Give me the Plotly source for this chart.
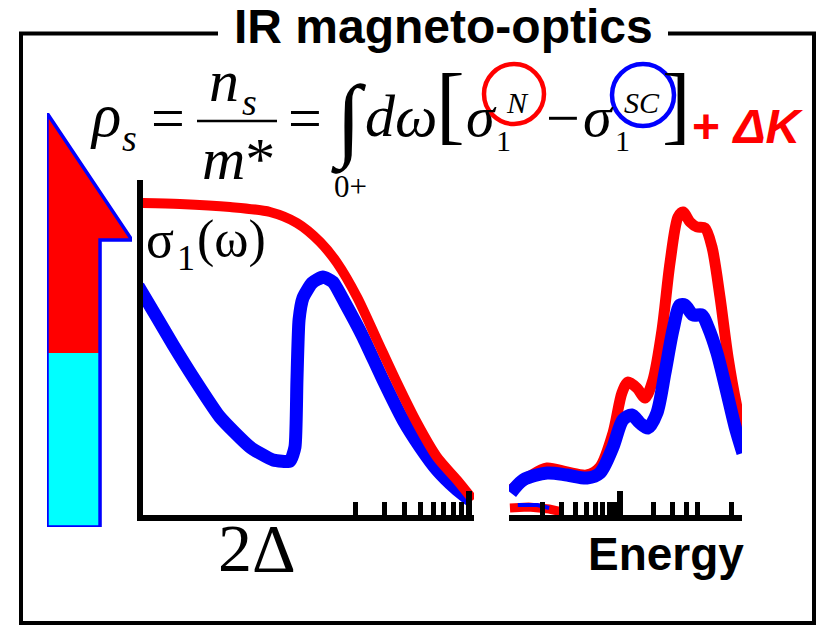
import plotly.graph_objects as go

W, H = 821, 626
SERIF = "Liberation Serif, Times New Roman, serif"
SANS = "Liberation Sans, Arial, sans-serif"
RED, BLUE, CYAN = "#ff0000", "#0000ff", "#00ffff"

# --- conductivity spectra, low-energy (gap) region: energy vs sigma_1 ---
low_energy_normal = [0.09, 0.163, 0.333, 0.588, 0.863, 1.20, 1.53, 2.03, 2.70, 3.59, 4.77, 6.34, 8.43, 10.6]
low_sigma_normal = [3.17, 3.16, 3.13, 3.08, 2.97, 2.78, 2.57, 2.23, 1.80, 1.37, 0.97, 0.63, 0.40, 0.20]

low_energy_sc = [0.09, 0.118, 0.148, 0.202, 0.288, 0.442, 0.614, 0.782, 0.839, 0.863, 0.889, 0.940,
                 1.07, 1.25, 1.44, 1.71, 2.21, 2.94, 3.91, 4.98, 6.34, 8.19, 10.1]
low_sigma_sc = [2.34, 2.02, 1.75, 1.40, 1.03, 0.73, 0.60, 0.59, 0.73, 1.40, 2.00, 2.22,
                2.37, 2.43, 2.38, 2.17, 1.83, 1.40, 1.00, 0.73, 0.50, 0.32, 0.20]

# --- high-energy (interband) region ---
high_energy_normal = [1.04, 1.55, 2.20, 3.33, 5.04, 6.60, 8.65, 10.4, 11.8, 14.2, 16.8, 19.8, 23.9,
                      28.2, 33.3, 37.0, 42.7, 49.4, 58.3, 67.4, 79.6, 94.0, 113, 134]
high_sigma_normal = [0.30, 0.44, 0.52, 0.48, 0.45, 0.53, 0.87, 1.27, 1.38, 1.32, 1.22, 1.40, 1.90,
                     2.57, 3.03, 3.08, 2.98, 2.93, 2.92, 2.73, 2.23, 1.63, 1.13, 0.77]

high_energy_sc = [1.04, 1.34, 2.20, 3.33, 5.04, 6.60, 8.65, 10.6, 12.8, 15.1, 17.9, 21.5, 25.4,
                  30.0, 34.7, 38.5, 45.5, 54.8, 62.1, 74.8, 92.0, 109, 128]
high_sigma_sc = [0.27, 0.40, 0.47, 0.45, 0.42, 0.47, 0.73, 1.00, 1.05, 0.97, 0.92, 1.07, 1.47,
                 1.90, 2.15, 2.15, 2.05, 2.05, 1.93, 1.67, 1.27, 0.93, 0.67]

# short pieces of both spectra lying on the energy axis
floor_energy_normal = [1.02, 1.5, 2.3, 3.0]
floor_sigma_normal = [0.12, 0.13, 0.11, 0.08]
floor_energy_sc = [1.2, 1.8, 2.3]
floor_sigma_sc = [0.15, 0.15, 0.12]

# log-axis tick marks
low_major_ticks = [10]
low_minor_ticks = [2, 3, 4, 5, 6, 7, 8, 9]
high_major_ticks = [10]
high_minor_ticks = [1, 2, 3, 4, 5, 6, 7, 8, 9, 20, 30, 40, 50, 100]

# superfluid-weight bar: share carried by the kinetic-energy change
kinetic_share = 0.42


def px_x(x):
    return x / W


def px_y(y):
    return 1 - y / H


fig = go.Figure()

# low-energy panel
fig.add_trace(go.Scatter(x=low_energy_sc, y=low_sigma_sc, mode="lines",
                         line=dict(color=BLUE, width=13, shape="spline", smoothing=0.5),
                         xaxis="x", yaxis="y"))
fig.add_trace(go.Scatter(x=low_energy_normal, y=low_sigma_normal, mode="lines",
                         line=dict(color=RED, width=10, shape="spline", smoothing=0.8),
                         xaxis="x", yaxis="y"))

# high-energy panel
fig.add_trace(go.Scatter(x=floor_energy_normal, y=floor_sigma_normal, mode="lines",
                         line=dict(color=RED, width=9), xaxis="x2", yaxis="y2"))
fig.add_trace(go.Scatter(x=floor_energy_sc, y=floor_sigma_sc, mode="lines",
                         line=dict(color=BLUE, width=4), xaxis="x2", yaxis="y2"))
fig.add_trace(go.Scatter(x=high_energy_normal, y=high_sigma_normal, mode="lines",
                         line=dict(color=RED, width=11, shape="spline", smoothing=0.8),
                         xaxis="x2", yaxis="y2"))
fig.add_trace(go.Scatter(x=high_energy_sc, y=high_sigma_sc, mode="lines",
                         line=dict(color=BLUE, width=13, shape="spline", smoothing=0.8),
                         xaxis="x2", yaxis="y2"))

# superfluid-weight arrow (unit box axes)
shaft = 0.624
head_base = 0.693
fig.add_trace(go.Scatter(x=[0, 0, shaft, shaft, 0], y=[0, kinetic_share, kinetic_share, 0, 0],
                         mode="lines", fill="toself", fillcolor=CYAN, line=dict(width=0),
                         xaxis="x3", yaxis="y3"))
fig.add_trace(go.Scatter(x=[0, 0, 1, shaft, shaft, 0],
                         y=[kinetic_share, 1, head_base, head_base, kinetic_share, kinetic_share],
                         mode="lines", fill="toself", fillcolor=RED, line=dict(width=0),
                         xaxis="x3", yaxis="y3"))
fig.add_trace(go.Scatter(x=[0, 0, 1, shaft, shaft, 0], y=[0, 1, head_base, head_base, 0, 0],
                         mode="lines", line=dict(color=BLUE, width=3.5),
                         xaxis="x3", yaxis="y3"))

# axis geometry
low_x_dom = (143, 474)
high_x_dom = (509, 742)
y_dom = (515, 180)
low_decade = 161.7
high_decade = 111.0
low_range = [1 - (469 - low_x_dom[0]) / low_decade, 1 + (low_x_dom[1] - 469) / low_decade]
high_range = [0, (high_x_dom[1] - high_x_dom[0]) / high_decade]
y_range = [(520 - y_dom[0]) / 100, (520 - y_dom[1]) / 100]

common_x = dict(type="log", showgrid=False, zeroline=False, showticklabels=False,
                showline=True, linecolor="black", linewidth=6,
                ticks="inside", tickcolor="black", tickwidth=6, ticklen=24)

fig.update_layout(
    width=W, height=H,
    margin=dict(l=0, r=0, t=0, b=0),
    paper_bgcolor="white", plot_bgcolor="rgba(0,0,0,0)",
    showlegend=False,
    xaxis=dict(**common_x, domain=[px_x(low_x_dom[0]), px_x(low_x_dom[1])], range=low_range,
               tickmode="array", tickvals=low_major_ticks,
               minor=dict(tickmode="array", tickvals=low_minor_ticks, ticks="inside",
                          ticklen=13, tickwidth=5, tickcolor="black", showgrid=False)),
    yaxis=dict(domain=[px_y(y_dom[0]), px_y(y_dom[1])], range=y_range, showgrid=False,
               zeroline=False, showticklabels=False, showline=True, linecolor="black",
               linewidth=6, ticks=""),
    xaxis2=dict(**common_x, domain=[px_x(high_x_dom[0]), px_x(high_x_dom[1])], range=high_range,
                tickmode="array", tickvals=high_major_ticks, anchor="y2",
                minor=dict(tickmode="array", tickvals=high_minor_ticks, ticks="inside",
                           ticklen=13, tickwidth=5, tickcolor="black", showgrid=False)),
    yaxis2=dict(domain=[px_y(y_dom[0]), px_y(y_dom[1])], range=y_range, visible=False,
                anchor="x2"),
    xaxis3=dict(domain=[px_x(47), px_x(132)], range=[0, 1], visible=False, anchor="y3"),
    yaxis3=dict(domain=[px_y(527), px_y(113)], range=[0, 1], visible=False, anchor="x3"),
)

# frame with a gap for the heading
fig.add_shape(type="path", xref="paper", yref="paper",
              path=(f"M {px_x(218)},{px_y(33.5)} L {px_x(21)},{px_y(33.5)} L {px_x(21)},{px_y(623)} "
                    f"L {px_x(814)},{px_y(623)} L {px_x(814)},{px_y(33.5)} L {px_x(668)},{px_y(33.5)}"),
              line=dict(color="black", width=4))

# fraction bar
fig.add_shape(type="line", xref="paper", yref="paper",
              x0=px_x(197), x1=px_x(277), y0=px_y(121), y1=px_y(121),
              line=dict(color="black", width=2.5))

# circled superscripts
for cx, cy, r, col in [(514, 94, 30, RED), (643, 95, 31, BLUE)]:
    fig.add_shape(type="circle", xref="paper", yref="paper",
                  x0=px_x(cx - r), x1=px_x(cx + r), y0=px_y(cy + r), y1=px_y(cy - r),
                  line=dict(color=col, width=4.5))


def text(s, x, baseline, size, family=SERIF, color="black"):
    fig.add_annotation(text=s, x=px_x(x), y=px_y(baseline - 0.34 * size),
                       xref="paper", yref="paper", xanchor="center", yanchor="middle",
                       showarrow=False, font=dict(family=family, size=size, color=color))


text("<b>IR magneto-optics</b>", 443, 43, 48, SANS)
text("<i>ρ</i>", 106, 136, 61)
text("<i>s</i>", 129, 151, 38)
text("=", 168, 138, 60)
text("<i>n</i>", 224, 101, 60)
text("<i>s</i>", 249, 115, 38)
text("<i>m</i>*", 238, 179, 60)
text("=", 305, 138, 60)
text("∫", 348, 152, 92)
text("0+", 350, 197, 31)
text("<i>dω</i>", 401, 136, 60)
text("[", 450, 133, 86)
text("<i>σ</i>", 482, 136, 58)
text("1", 504, 151, 30)
text("<i>N</i>", 517, 113, 30)
text("−", 563, 138, 60)
text("<i>σ</i>", 598, 136, 58)
text("1", 622, 151, 30)
text("<i>SC</i>", 642, 113, 30)
text("]", 676, 133, 86)
text("<b>+ <i>ΔK</i></b>", 748, 143, 48, SANS, RED)
text("σ", 160, 257, 52)
text("1", 186, 270, 36)
text("(ω)", 231, 257, 52)
text("2Δ", 257, 571, 68)
text("<b>Energy</b>", 666, 570, 46, SANS)

fig.write_html("out.html")
